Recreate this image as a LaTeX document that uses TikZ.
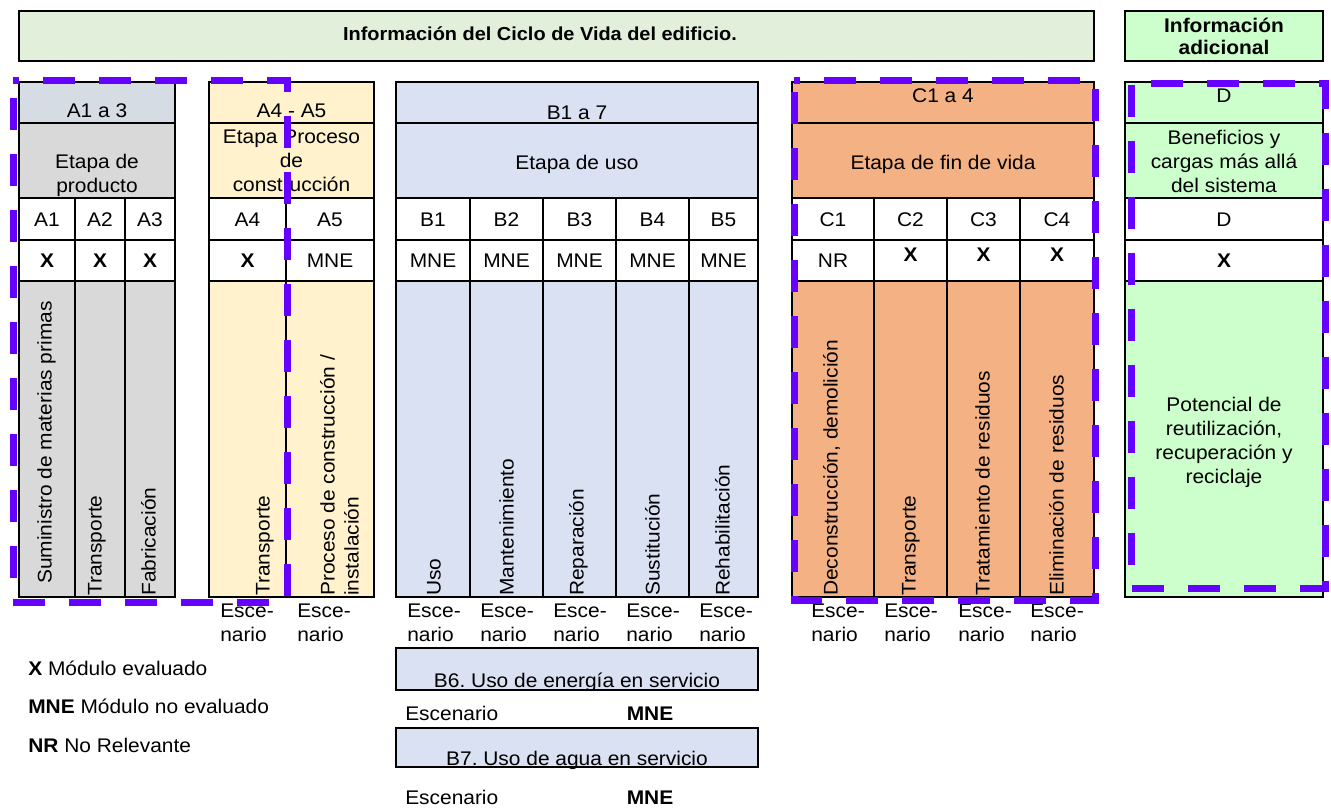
\documentclass[tikz,border=0pt]{standalone}
\usepackage{fontspec}
\setmainfont{Liberation Sans}[FakeStretch=1.06]
\frenchspacing
\definecolor{bannerverde}{HTML}{E2EFDA}
\definecolor{verdeD}{HTML}{CCFFCC}
\definecolor{cabA}{HTML}{D6DCE4}
\definecolor{grisA}{HTML}{D9D9D9}
\definecolor{amarillo}{HTML}{FFF2CC}
\definecolor{azulB}{HTML}{D9E1F2}
\definecolor{naranja}{HTML}{F4B183}
\definecolor{violeta}{HTML}{6600FF}
\tikzset{
  celda/.style={line width=1.5pt},
  banner/.style={line width=2pt},
  txt/.style={inner sep=0pt, text depth=0pt, align=center, anchor=south, font=\fontsize{14.8}{18}\selectfont},
  vert/.style={txt, rotate=90, anchor=south west, align=left},
  escena/.style={txt, align=left, anchor=south west},
  grupo/.style={violeta, line width=5.25pt, dash pattern=on 24pt off 18pt, dash phase=19.5pt}
}
\def\bloque[#1][#2](#3:#4){%
  \fill[#1] (#3,82) rectangle (#4,123);
  \fill[#2] (#3,123) rectangle (#4,198);
  \fill[#2] (#3,281) rectangle (#4,597);
  \draw[celda] (#3,82) rectangle (#4,597);
  \draw[celda] (#3,123) -- (#4,123) (#3,198) -- (#4,198) (#3,240) -- (#4,240) (#3,281) -- (#4,281);}

\begin{document}
\begin{tikzpicture}[x=0.75pt,y=-0.75pt]
		\useasboundingbox (0,0) rectangle (1331,807);
		%%%%% CABECERA %%%%%
		\draw[banner, fill=bannerverde] (19,11) rectangle (1094,61);
		\node[txt, font=\bfseries\fontsize{14.1}{18}\selectfont] (titulo) at (540,41) {Información del Ciclo de Vida del edificio.};
		\draw[banner, fill=verdeD] (1125,11) rectangle (1323,61);
		\node[txt, font=\bfseries\fontsize{14.8}{16.5}\selectfont] (adicional) at (1224,55) {Información\\adicional};
		
		%%%%% ETAPAS %%%%%
		\bloque[cabA][grisA](19:175)
		\bloque[amarillo][amarillo](209:374)
		\bloque[azulB][azulB](396:758)
		\bloque[naranja][naranja](792:1094)
		\bloque[verdeD][verdeD](1125:1323)
		
		\draw[celda] (75,198) -- (75,597) (125,198) -- (125,597);
		\draw[celda] (286,198) -- (286,597);
		\draw[celda] (470,198) -- (470,597) (543,198) -- (543,597) (616,198) -- (616,597) (689,198) -- (689,597);
		\draw[celda] (874,198) -- (874,597) (947,198) -- (947,597) (1020,198) -- (1020,597);
		
		\node[txt] (hA) at (97,118) {A1 a 3};
		\node[txt] (hA45) at (291.5,118) {A4 - A5};
		\node[txt] (hB) at (577,120) {B1 a 7};
		\node[txt] (hC) at (943,103) {C1 a 4};
		\node[txt] (hD) at (1224,103) {D};
		
		\node[txt] (eA) at (97,193) {Etapa de\\producto};
		\node[txt] (eA45) at (291.5,192) {Etapa Proceso\\de\\construcción};
		\node[txt] (eB) at (577,170) {Etapa de uso};
		\node[txt] (eC) at (943,170) {Etapa de fin de vida};
		\node[txt] (eD) at (1224,193) {Beneficios y\\cargas más allá\\del sistema};
		
		%% modulos
		\node[txt] (cA1) at (47,227) {A1};
		\node[txt] (cA2) at (100,227) {A2};
		\node[txt] (cA3) at (150,227) {A3};
		\node[txt] (cA4) at (247.5,227) {A4};
		\node[txt] (cA5) at (330,227) {A5};
		\node[txt] (cB1) at (433,227) {B1};
		\node[txt] (cB2) at (506.5,227) {B2};
		\node[txt] (cB3) at (579.5,227) {B3};
		\node[txt] (cB4) at (652.5,227) {B4};
		\node[txt] (cB5) at (723.5,227) {B5};
		\node[txt] (cC1) at (833,227) {C1};
		\node[txt] (cC2) at (910.5,227) {C2};
		\node[txt] (cC3) at (983.5,227) {C3};
		\node[txt] (cC4) at (1057,227) {C4};
		\node[txt] (cD) at (1224,227) {D};
		
		%% evaluacion
		\node[txt] (xA1) at (47,268) {\textbf{X}};
		\node[txt] (xA2) at (100,268) {\textbf{X}};
		\node[txt] (xA3) at (150,268) {\textbf{X}};
		\node[txt] (xA4) at (247.5,268) {\textbf{X}};
		\node[txt] (xA5) at (330,268) {MNE};
		\node[txt] (xB1) at (433,268) {MNE};
		\node[txt] (xB2) at (506.5,268) {MNE};
		\node[txt] (xB3) at (579.5,268) {MNE};
		\node[txt] (xB4) at (652.5,268) {MNE};
		\node[txt] (xB5) at (723.5,268) {MNE};
		\node[txt] (xC1) at (833,268) {NR};
		\node[txt] (xC2) at (910.5,262) {\textbf{X}};
		\node[txt] (xC3) at (983.5,262) {\textbf{X}};
		\node[txt] (xC4) at (1057,262) {\textbf{X}};
		\node[txt] (xD) at (1224,268) {\textbf{X}};
		
		%% procesos
		\node[vert] (tA1) at (52,584) {Suministro de materias primas};
		\node[vert] (tA2) at (102,596) {Transporte};
		\node[vert] (tA3) at (156,596) {Fabricación};
		\node[vert] (tA4) at (270,596) {Transporte};
		\node[vert] (tA5) at (359,596) {Proceso de construcción /\\instalación};
		\node[vert] (tB1) at (441,596) {Uso};
		\node[vert] (tB2) at (514,596) {Mantenimiento};
		\node[vert] (tB3) at (584,596) {Reparación};
		\node[vert] (tB4) at (660,596) {Sustitución};
		\node[vert] (tB5) at (730,596) {Rehabilitación};
		\node[vert] (tC1) at (838,596) {Deconstrucción, demolición};
		\node[vert] (tC2) at (916,596) {Transporte};
		\node[vert] (tC3) at (990,596) {Tratamiento de residuos};
		\node[vert] (tC4) at (1064,596) {Eliminación de residuos};
		\node[txt] (pD) at (1224,484) {Potencial de\\reutilización,\\recuperación y\\reciclaje};
		
		%% escenarios
		\node[escena] (sA4) at (220,642) {Esce-\\nario};
		\node[escena] (sA5) at (297,642) {Esce-\\nario};
		\node[escena] (sB1) at (407,642) {Esce-\\nario};
		\node[escena] (sB2) at (480,642) {Esce-\\nario};
		\node[escena] (sB3) at (553,642) {Esce-\\nario};
		\node[escena] (sB4) at (626,642) {Esce-\\nario};
		\node[escena] (sB5) at (699,642) {Esce-\\nario};
		\node[escena] (sC1) at (811,642) {Esce-\\nario};
		\node[escena] (sC2) at (884,642) {Esce-\\nario};
		\node[escena] (sC3) at (958,642) {Esce-\\nario};
		\node[escena] (sC4) at (1030,642) {Esce-\\nario};
		
		%%%%% B6 / B7 %%%%%
		\draw[celda, fill=azulB] (396,648) rectangle (758,690);
		\node[txt] (b6) at (577,688) {B6. Uso de energía en servicio};
		\node[escena] (escB6) at (405,721) {Escenario};
		\node[txt] (mneB6) at (650,721) {\textbf{MNE}};
		\draw[celda, fill=azulB] (396,728) rectangle (758,767);
		\node[txt] (b7) at (577,766) {B7. Uso de agua en servicio};
		\node[escena] (escB7) at (405,805) {Escenario};
		\node[txt] (mneB7) at (650,805) {\textbf{MNE}};
		
		%%%%% LEYENDA %%%%%
		\node[escena] (leyX) at (28,676) {\textbf{X} Módulo evaluado};
		\node[escena] (leyMNE) at (28,714) {\textbf{MNE} Módulo no evaluado};
		\node[escena] (leyNR) at (28,753) {\textbf{NR} No Relevante};
		
		%%%%% GRUPOS %%%%%
		\draw[grupo] (13,80) -- (287,80) -- (287,602) -- (13,602) -- cycle;
		\draw[grupo] (794,80) -- (1095,80) -- (1095,600) -- (794,600) -- cycle;
		\draw[grupo, dash phase=27pt] (1131,83) -- (1325,83) -- (1325,588) -- (1131,588) -- cycle;
	\end{tikzpicture}
\end{document}
